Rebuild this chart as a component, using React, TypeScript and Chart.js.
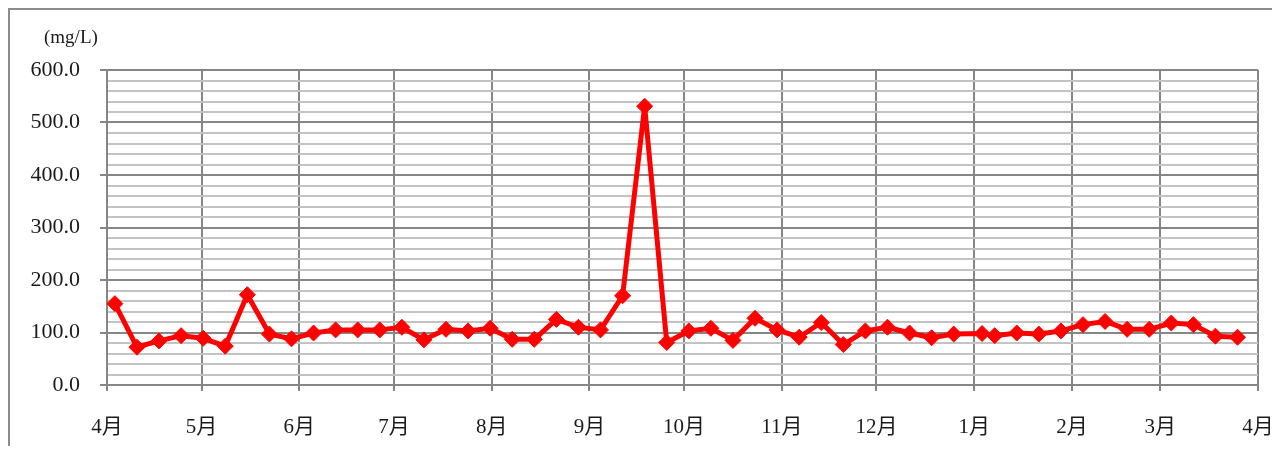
import React, { useEffect, useRef } from "react";
import { Chart, registerables } from "chart.js";

Chart.register(...registerables);

// Month boundaries (days from April 1) and their labels
const monthStarts = [0, 30, 61, 91, 122, 153, 183, 214, 244, 275, 306, 334, 365];
const monthLabels = ["4月", "5月", "6月", "7月", "8月", "9月", "10月", "11月", "12月", "1月", "2月", "3月", "4月"];

// Sampling days (days from April 1)
const sampleDays = [
  2.5, 9.5, 16.5, 23.5, 30.5, 37.5, 44.5, 51.5, 58.5, 65.5,
  72.5, 79.5, 86.5, 93.5, 100.5, 107.5, 114.5, 121.5, 128.5, 135.5,
  142.5, 149.5, 156.5, 163.5, 170.5, 177.5, 184.5, 191.5, 198.5, 205.5,
  212.5, 219.5, 226.5, 233.5, 240.5, 247.5, 254.5, 261.5, 268.5, 277.5,
  281.5, 288.5, 295.5, 302.5, 309.5, 316.5, 323.5, 330.5, 337.5, 344.5,
  351.5, 358.5,
];

// Concentration values (mg/L)
const concentration = [
  155, 72, 84, 94, 89, 74, 172, 97, 88, 99,
  105, 105, 105, 110, 86, 106, 103, 108, 87, 87,
  125, 110, 105, 170, 531, 81, 103, 108, 85, 127,
  105, 91, 119, 77, 103, 110, 99, 90, 97, 98,
  94, 99, 97, 103, 115, 121, 106, 106, 118, 115,
  93, 91,
];

const yMin = 0;
const yMax = 600;
const yStep = 20;
const yMajor = 100;
const unitLabel = "(mg/L)";

const FONT = "'Liberation Serif', 'Noto Sans CJK JP', serif";
const MAJOR = "#868686";
const MINOR = "#c3c3c3";
const TEXT = "#1a1a1a";

const unitLabelPlugin = {
  id: "unitLabel",
  afterDraw(chart: any) {
    const { ctx, chartArea } = chart;
    ctx.save();
    ctx.font = `normal 19px ${FONT}`;
    ctx.fillStyle = TEXT;
    ctx.textAlign = "left";
    ctx.textBaseline = "middle";
    ctx.fillText(unitLabel, chartArea.left - 63, chartArea.top - 32);
    ctx.restore();
  },
};

export default function App() {
  const ref = useRef<HTMLCanvasElement | null>(null);

  useEffect(() => {
    if (!ref.current) return;
    const points = sampleDays.map((d, i) => ({ x: d, y: concentration[i] }));
    const chart = new Chart(ref.current, {
      type: "line",
      data: {
        datasets: [
          {
            data: points,
            borderColor: "#ff0000",
            borderWidth: 5,
            borderJoinStyle: "round",
            backgroundColor: "#ff0000",
            pointStyle: "rectRot",
            pointRadius: 8,
            pointBackgroundColor: "#ff0000",
            pointBorderColor: "#ff0000",
            pointBorderWidth: 1,
            tension: 0,
          },
        ],
      },
      plugins: [unitLabelPlugin],
      options: {
        animation: false,
        responsive: false,
        maintainAspectRatio: false,
        layout: { padding: { left: 0, right: 22, top: 60, bottom: 0 } },
        plugins: {
          legend: { display: false },
          tooltip: { enabled: false },
          title: { display: false },
        },
        scales: {
          x: {
            type: "linear",
            min: monthStarts[0],
            max: monthStarts[monthStarts.length - 1],
            afterBuildTicks: (scale: any) => {
              scale.ticks = monthStarts.map((v) => ({ value: v }));
            },
            afterFit: (scale: any) => {
              scale.height = 61;
              scale.paddingLeft = 0;
              scale.paddingRight = 0;
            },
            ticks: {
              autoSkip: false,
              maxRotation: 0,
              padding: 24,
              color: TEXT,
              font: { family: FONT, size: 21 },
              callback: (v: any) => {
                const i = monthStarts.indexOf(Number(v));
                return i >= 0 ? monthLabels[i] : "";
              },
            },
            grid: {
              color: MAJOR,
              lineWidth: 2,
              tickLength: 6,
              tickColor: MAJOR,
            },
            border: { display: true, color: MAJOR, width: 2 },
          },
          y: {
            type: "linear",
            min: yMin,
            max: yMax,
            afterFit: (scale: any) => {
              scale.width = 97;
              scale.paddingTop = 0;
              scale.paddingBottom = 0;
            },
            ticks: {
              stepSize: yStep,
              autoSkip: false,
              padding: 20,
              color: TEXT,
              font: { family: FONT, size: 22 },
              callback: (v: any) => (Number(v) % yMajor === 0 ? Number(v).toFixed(1) : ""),
            },
            grid: {
              lineWidth: 2,
              tickLength: 7,
              color: (ctx: any) => (ctx.tick && ctx.tick.value % yMajor === 0 ? MAJOR : MINOR),
              tickColor: (ctx: any) =>
                ctx.tick && ctx.tick.value % yMajor === 0 ? MAJOR : "rgba(0,0,0,0)",
            },
            border: { display: true, color: MAJOR, width: 2 },
          },
        },
      },
    });
    return () => chart.destroy();
  }, []);

  return (
    <div
      style={{
        width: 1272,
        height: 438,
        boxSizing: "border-box",
        borderLeft: "2px solid #8c8c8c",
        borderTop: "2px solid #8c8c8c",
        overflow: "hidden",
      }}
    >
      <canvas ref={ref} width={1270} height={436} style={{ display: "block" }} />
    </div>
  );
}
